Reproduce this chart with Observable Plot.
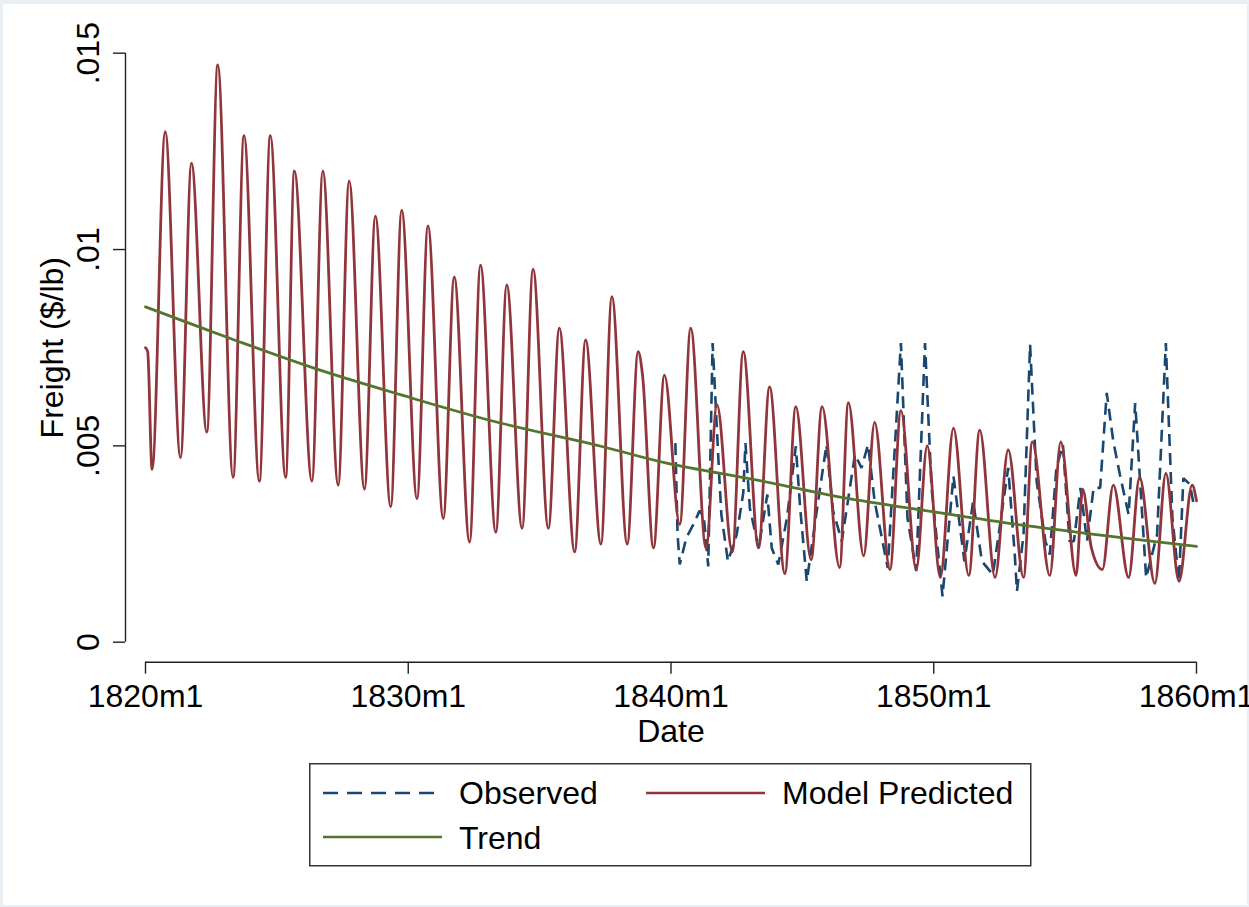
<!DOCTYPE html>
<html>
<head>
<meta charset="utf-8">
<script src="https://cdn.jsdelivr.net/npm/d3@7"></script>
<script src="https://cdn.jsdelivr.net/npm/@observablehq/plot@0.6"></script>
<style>
  html, body { margin: 0; padding: 0; background: #e9eff3; }
  #page { position: relative; width: 1249px; height: 907px; overflow: hidden; background: #e9eff3; }
  #sheet { position: absolute; left: 3px; top: 4px; width: 1244px; height: 901px; background: #fff; }
  #chart { position: absolute; left: 0; top: 0; }
  #legend { position: absolute; left: 309px; top: 763px; }
  text { font-family: "Liberation Sans", Arial, sans-serif; }
</style>
</head>
<body>
<div id="page">
  <div id="sheet"></div>
  <div id="chart"></div>
  <div id="legend"></div>
</div>
<script>
// Monthly freight rates, dates in Stata %tm style ("YYYYmM").

// Observed freight ($/lb), 1840–1860
const obsDates = [
  "1840m3","1840m4","1840m5","1840m8","1840m12","1841m2","1841m4","1841m6","1841m8","1841m11",
  "1841m12","1842m3","1842m7","1842m10","1842m11","1843m1","1843m5","1843m9","1843m11","1844m2",
  "1844m6","1844m10","1844m12","1845m3","1845m8","1845m12","1846m3","1846m7","1847m1","1847m4",
  "1847m7","1847m10","1848m4","1848m10","1849m1","1849m5","1849m9","1849m12","1850m5","1850m10",
  "1851m3","1851m7","1851m11","1852m4","1852m11","1853m2","1853m3","1853m6","1853m9","1853m12",
  "1854m4","1854m6","1854m9","1854m12","1855m3","1855m5","1855m8","1855m11","1856m2","1856m5",
  "1856m8","1856m11","1857m2","1857m6","1857m9","1858m2","1858m7","1858m11","1859m2","1859m5",
  "1859m7","1859m10","1859m12"
];
const obsValues = [
  0.00507,0.00274,0.00198,0.00266,0.00308,0.00335,0.00318,0.00193,0.00762,0.00427,
  0.00325,0.00206,0.00274,0.00380,0.00507,0.00342,0.00240,0.00376,0.00240,0.00198,
  0.00318,0.00499,0.00342,0.00155,0.00351,0.00503,0.00335,0.00257,0.00478,0.00444,
  0.00503,0.00359,0.00189,0.00762,0.00316,0.00181,0.00762,0.00393,0.00117,0.00423,
  0.00206,0.00359,0.00206,0.00172,0.00444,0.00223,0.00130,0.00274,0.00758,0.00410,
  0.00257,0.00223,0.00444,0.00503,0.00257,0.00257,0.00393,0.00257,0.00393,0.00393,
  0.00635,0.00512,0.00427,0.00325,0.00609,0.00164,0.00274,0.00762,0.00316,0.00155,
  0.00418,0.00402,0.00342
];

// Model-predicted freight ($/lb), 1820–1860
const predDates = [
  "1820m1","1820m2","1820m4","1820m10","1821m5","1821m10","1822m5","1822m10","1823m5","1823m10",
  "1824m5","1824m10","1825m5","1825m9","1826m5","1826m10","1827m5","1827m10","1828m5","1828m10",
  "1829m5","1829m10","1830m5","1830m10","1831m5","1831m10","1832m5","1832m10","1833m5","1833m10",
  "1834m5","1834m10","1835m5","1835m10","1836m5","1836m10","1837m5","1837m10","1838m5","1838m10",
  "1838m12","1839m5","1839m10","1840m5","1840m10","1841m5","1841m10","1842m5","1842m10","1843m5",
  "1843m10","1844m5","1844m10","1845m5","1845m10","1846m6","1846m10","1847m5","1847m10","1848m5",
  "1848m10","1849m5","1849m10","1850m4","1850m10","1851m5","1851m10","1852m5","1852m11","1853m6",
  "1853m10","1854m6","1854m11","1855m6","1855m9","1856m1","1856m6","1856m11","1857m6","1857m11",
  "1858m6","1858m11","1859m5","1859m11","1860m1"
];
const predValues = [
  0.00750,0.00740,0.00440,0.01300,0.00470,0.01220,0.00535,0.01470,0.00420,0.01290,
  0.00410,0.01290,0.00420,0.01200,0.00410,0.01200,0.00400,0.01175,0.00390,0.01085,
  0.00345,0.01100,0.00365,0.01060,0.00315,0.00930,0.00255,0.00960,0.00280,0.00910,
  0.00290,0.00950,0.00290,0.00800,0.00230,0.00770,0.00250,0.00880,0.00250,0.00740,
  0.00680,0.00240,0.00680,0.00300,0.00800,0.00240,0.00605,0.00230,0.00740,0.00240,
  0.00650,0.00175,0.00600,0.00210,0.00600,0.00190,0.00610,0.00220,0.00560,0.00185,
  0.00590,0.00185,0.00500,0.00165,0.00545,0.00170,0.00540,0.00165,0.00490,0.00165,
  0.00510,0.00170,0.00510,0.00170,0.00390,0.00240,0.00185,0.00400,0.00165,0.00420,
  0.00150,0.00430,0.00155,0.00400,0.00360
];

// Long-run trend ($/lb)
const trendDates = [
  "1820m1","1823m5","1826m7","1829m9","1833m3","1837m5","1839m11",
  "1843m5","1846m7","1850m1","1853m3","1856m9","1860m1"
];
const trendValues = [
  0.00854,0.00771,0.00696,0.00631,0.00564,0.00499,0.00456,
  0.00412,0.00369,0.00332,0.00300,0.00270,0.00244
];

// Axis ticks
const xTickDates = ["1820m1","1830m1","1840m1","1850m1","1860m1"];
const yTickValues = [0, 0.005, 0.01, 0.015];

// Legend entries
const legendLabels = ["Observed", "Model Predicted", "Trend"];
const seriesColors = ["#1a476f", "#90353b", "#55752f"];

const parseTm = s => { const [y, m] = s.split("m").map(Number); return y * 12 + (m - 1); };
const fmtTm = t => `${Math.floor(t / 12)}m${(t % 12) + 1}`;
const fmtY = v => v === 0 ? "0" : String(v).replace(/^0/, "");

const toRows = (dates, values) => dates.map((d, i) => ({t: parseTm(d), v: values[i]}));
const observed = toRows(obsDates, obsValues);
const predicted = toRows(predDates, predValues);
const trend = toRows(trendDates, trendValues);

const t0 = parseTm(xTickDates[0]);
const t1 = parseTm(xTickDates[xTickDates.length - 1]);
const tMid = parseTm("1840m1");
const xTicks = xTickDates.map(parseTm);

const H = 752;
const chart = Plot.plot({
  width: 1249,
  height: H,
  marginLeft: 125,
  marginRight: 45,
  marginTop: 40,
  marginBottom: H - 661.7,
  x: {domain: [t0, t1], range: [145, 1196], axis: null},
  y: {domain: [0, 0.015], range: [641.7, 52.7], axis: null},
  style: {
    fontFamily: '"Liberation Sans", Arial, sans-serif',
    fontSize: "32px",
    color: "#000",
    background: "transparent",
    overflow: "visible"
  },
  marks: [
    // axis lines, offset from the data region
    Plot.ruleX([t0], {x: d => d, y1: () => 0, y2: () => 0.015, dx: -20, stroke: "#222", strokeWidth: 1.4}),
    Plot.ruleY([0], {y: d => d, x1: () => t0, x2: () => t1, dy: 20, stroke: "#222", strokeWidth: 1.4}),
    Plot.axisY(yTickValues, {
      anchor: "left", label: null, tickSize: 12, tickPadding: 15, tickRotate: -90,
      tickFormat: fmtY, stroke: "#222", strokeWidth: 1.4, fill: "#000"
    }),
    Plot.axisX(xTicks, {
      anchor: "bottom", label: null, tickSize: 12, tickPadding: 10.5,
      tickFormat: fmtTm, stroke: "#222", strokeWidth: 1.4, fill: "#000"
    }),
    // axis titles
    Plot.text(["Freight ($/lb)"], {x: () => t0, y: () => 0.0075, text: d => d, rotate: -90, dx: -83,
      textAnchor: "middle", lineAnchor: "bottom", fill: "#000"}),
    Plot.text(["Date"], {x: () => tMid, y: () => 0, text: d => d, dy: 100,
      textAnchor: "middle", lineAnchor: "bottom", fill: "#000"}),
    // series
    Plot.line(observed, {x: "t", y: "v", stroke: seriesColors[0], strokeWidth: 2.6,
      strokeDasharray: "12,7", strokeLinejoin: "miter", strokeLinecap: "butt"}),
    Plot.line(predicted, {x: "t", y: "v", stroke: seriesColors[1], strokeWidth: 2.8,
      curve: "monotone-x"}),
    Plot.line(trend, {x: "t", y: "v", stroke: seriesColors[2], strokeWidth: 2.8, curve: "catmull-rom"})
  ]
});
document.getElementById("chart").appendChild(chart);

// Legend box beneath the plot
const lg = d3.select("#legend").append("svg")
  .attr("width", 724).attr("height", 105)
  .style("font-family", '"Liberation Sans", Arial, sans-serif')
  .style("font-size", "32px");
lg.append("rect").attr("x", 0.75).attr("y", 0.75).attr("width", 721).attr("height", 102)
  .attr("fill", "#fff").attr("stroke", "#333").attr("stroke-width", 1.5);
const items = [
  {x: 14, y: 30, tx: 150, ty: 41, dash: "15,9"},
  {x: 337, y: 30, tx: 473, ty: 41, dash: null},
  {x: 14, y: 74, tx: 150, ty: 86, dash: null}
];
items.forEach((it, i) => {
  lg.append("line").attr("x1", it.x).attr("x2", it.x + 119).attr("y1", it.y).attr("y2", it.y)
    .attr("stroke", seriesColors[i]).attr("stroke-width", 2.4)
    .attr("stroke-dasharray", it.dash);
  lg.append("text").attr("x", it.tx).attr("y", it.ty).attr("fill", "#000").text(legendLabels[i]);
});
</script>
</body>
</html>
